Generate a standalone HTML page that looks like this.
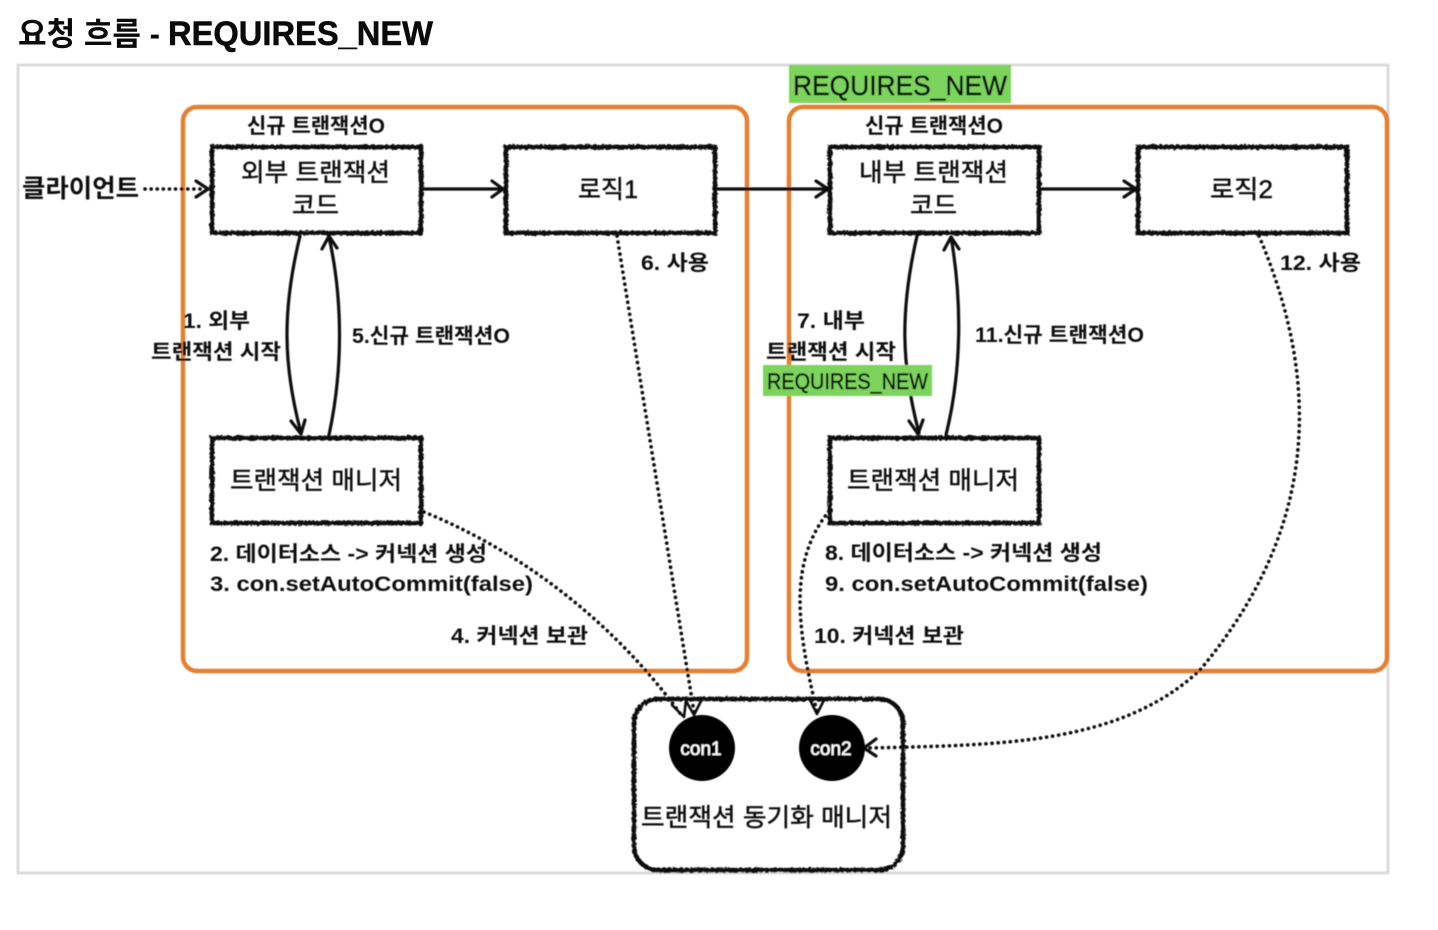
<!DOCTYPE html>
<html><head><meta charset="utf-8"><style>
html,body{margin:0;padding:0;background:#fff;width:1438px;height:930px;overflow:hidden}
svg{display:block}
text{font-family:"Liberation Sans","Noto Sans CJK KR",sans-serif;fill:#0a0a0a}
.b{font-weight:700}
.r{stroke:#0a0a0a;stroke-width:.45px}
.m{font-size:21px;font-weight:700}
</style></head><body>
<svg width="1438" height="930" viewBox="0 0 1438 930" xmlns="http://www.w3.org/2000/svg">
<defs>
<filter id="r" x="-5%" y="-5%" width="110%" height="110%"><feTurbulence type="fractalNoise" baseFrequency="0.35" numOctaves="2" seed="4"/><feDisplacementMap in="SourceGraphic" scale="3.5"/></filter>
<filter id="soft" x="-5%" y="-5%" width="110%" height="110%"><feGaussianBlur stdDeviation="0.45"/></filter>
</defs>
<text x="18" y="45" class="b" font-size="32" textLength="142" lengthAdjust="spacingAndGlyphs">요청 흐름 -</text>
<text x="168" y="45" class="b" font-size="34" stroke="#0a0a0a" stroke-width=".5" textLength="265" lengthAdjust="spacingAndGlyphs">REQUIRES_NEW</text>
<rect x="18" y="65" width="1370" height="808" fill="#fff" stroke="#dcdcdc" stroke-width="3"/>
<g filter="url(#soft)">
<rect x="183" y="107" width="564" height="564" rx="14" fill="none" stroke="#e67f33" stroke-width="4.5"/>
<rect x="789" y="107" width="598" height="564" rx="14" fill="none" stroke="#e67f33" stroke-width="4.5"/>
<g fill="none" stroke="#0a0a0a" stroke-width="4.6" filter="url(#r)">
<rect x="212" y="147" width="209" height="86"/>
<rect x="506" y="147" width="209" height="86"/>
<rect x="830" y="147" width="209" height="86"/>
<rect x="1138" y="147" width="209" height="86"/>
<rect x="212" y="438" width="209" height="85"/>
<rect x="830" y="438" width="209" height="85"/>
<rect x="634" y="699" width="269" height="171" rx="24"/>
</g>
<g fill="none" stroke="#0a0a0a" stroke-width="3.2" stroke-linecap="round" stroke-linejoin="round">
<path d="M423 189H502M492 181L503 189L492 197"/>
<path d="M718 189H827M816 181L828 189L816 197"/>
<path d="M1041 189H1135M1124 181L1136 189L1124 197"/>
<path d="M300 236C282 310 283 365 301 433M291 421L301 434L305 420"/>
<path d="M329 435C343 370 343 300 329 237M322 249L329 236L337 248"/>
<path d="M917 236C900 310 901 365 919 433M909 421L918 434L923 420"/>
<path d="M946 435C962 370 962 300 951 237M944 250L951 237L959 249"/>
<path d="M196 181L208 189L196 197"/>
<path d="M672 705L684 717L686 700" stroke-width="2.6"/>
<path d="M686 701L694 715L701 701" stroke-width="2.6"/>
<path d="M810 700L817 714L824 700" stroke-width="2.6"/>
<path d="M876 739L864 748L876 756"/>
</g>
<g fill="none" stroke="#0a0a0a" stroke-width="3.6" stroke-linecap="round" stroke-dasharray="0.1 6">
<path d="M145 189H206"/>
<path d="M617 236L694 712"/>
<path d="M424 512C530 555 620 630 682 716"/>
<path d="M829 511C790 560 795 620 817 712"/>
<path d="M1259 236C1316 370 1326 520 1200 670C1120 745 1000 745 868 748"/>
</g>
<circle cx="702" cy="748" r="33" fill="#000"/>
<circle cx="832" cy="748" r="33" fill="#000"/>
<text x="701" y="755" font-size="19" text-anchor="middle" stroke="#fff" stroke-width=".4" style="fill:#fff">con1</text>
<text x="831" y="755" font-size="19" text-anchor="middle" stroke="#fff" stroke-width=".4" style="fill:#fff">con2</text>
<rect x="789" y="65" width="222" height="38" fill="#7bd45c"/>
<rect x="763" y="365" width="169" height="31" fill="#7bd45c"/>
<text x="793" y="95" font-size="28" class="r" textLength="214" lengthAdjust="spacingAndGlyphs">REQUIRES_NEW</text>
<text x="767" y="389" font-size="22" class="r" textLength="161" lengthAdjust="spacingAndGlyphs">REQUIRES_NEW</text>
<text x="247" y="133" class="m" textLength="138" lengthAdjust="spacingAndGlyphs">신규 트랜잭션O</text>
<text x="865" y="133" class="m" textLength="138" lengthAdjust="spacingAndGlyphs">신규 트랜잭션O</text>
<text x="22" y="197" font-size="25" class="b" textLength="117" lengthAdjust="spacingAndGlyphs">클라이언트</text>
<text x="241" y="181" font-size="25" class="r" textLength="149" lengthAdjust="spacingAndGlyphs">외부 트랜잭션</text>
<text x="292" y="214" font-size="25" class="r" textLength="47" lengthAdjust="spacingAndGlyphs">코드</text>
<text x="578" y="198" font-size="25" class="r" textLength="60" lengthAdjust="spacingAndGlyphs">로직1</text>
<text x="859" y="181" font-size="25" class="r" textLength="149" lengthAdjust="spacingAndGlyphs">내부 트랜잭션</text>
<text x="910" y="214" font-size="25" class="r" textLength="47" lengthAdjust="spacingAndGlyphs">코드</text>
<text x="1210" y="198" font-size="25" class="r" textLength="63" lengthAdjust="spacingAndGlyphs">로직2</text>
<text x="230" y="489" font-size="25" class="r" textLength="172" lengthAdjust="spacingAndGlyphs">트랜잭션 매니저</text>
<text x="847" y="489" font-size="25" class="r" textLength="172" lengthAdjust="spacingAndGlyphs">트랜잭션 매니저</text>
<text x="641" y="826" font-size="25" class="r" textLength="251" lengthAdjust="spacingAndGlyphs">트랜잭션 동기화 매니저</text>
<text x="183" y="328" class="m" textLength="67" lengthAdjust="spacingAndGlyphs">1. 외부</text>
<text x="151" y="359" class="m" textLength="130" lengthAdjust="spacingAndGlyphs">트랜잭션 시작</text>
<text x="352" y="343" class="m" textLength="158" lengthAdjust="spacingAndGlyphs">5.신규 트랜잭션O</text>
<text x="641" y="270" class="m" textLength="68" lengthAdjust="spacingAndGlyphs">6. 사용</text>
<text x="210" y="561" class="m" textLength="277" lengthAdjust="spacingAndGlyphs">2. 데이터소스 -&gt; 커넥션 생성</text>
<text x="210" y="591" class="m" textLength="323" lengthAdjust="spacingAndGlyphs">3. con.setAutoCommit(false)</text>
<text x="451" y="643" class="m" textLength="137" lengthAdjust="spacingAndGlyphs">4. 커넥션 보관</text>
<text x="797" y="328" class="m" textLength="68" lengthAdjust="spacingAndGlyphs">7. 내부</text>
<text x="766" y="359" class="m" textLength="130" lengthAdjust="spacingAndGlyphs">트랜잭션 시작</text>
<text x="975" y="342" class="m" textLength="169" lengthAdjust="spacingAndGlyphs">11.신규 트랜잭션O</text>
<text x="1280" y="270" class="m" textLength="81" lengthAdjust="spacingAndGlyphs">12. 사용</text>
<text x="825" y="560" class="m" textLength="277" lengthAdjust="spacingAndGlyphs">8. 데이터소스 -&gt; 커넥션 생성</text>
<text x="825" y="591" class="m" textLength="323" lengthAdjust="spacingAndGlyphs">9. con.setAutoCommit(false)</text>
<text x="814" y="643" class="m" textLength="150" lengthAdjust="spacingAndGlyphs">10. 커넥션 보관</text>
</g>
</svg>
</body></html>
